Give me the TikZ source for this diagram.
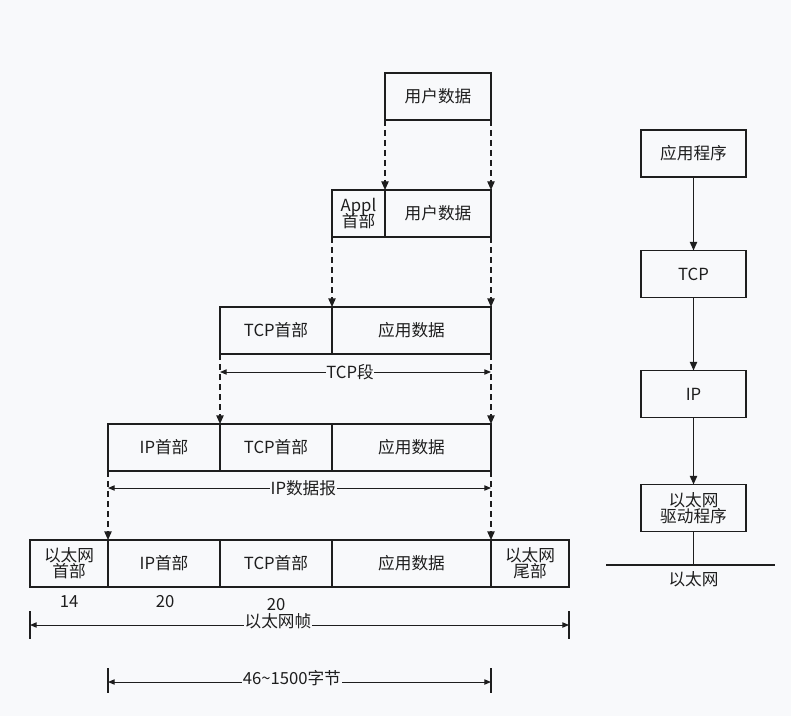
\documentclass[tikz,border=0pt]{standalone}
\usepackage{fontspec}
\setmainfont{Noto Sans CJK SC}
\definecolor{pgbg}{HTML}{F8F9FB}
\definecolor{pgink}{HTML}{1E1E1E}
\usetikzlibrary{arrows.meta,positioning}

\begin{document}
\begin{tikzpicture}[
  x=0.75pt,y=-0.75pt,
  font=\fontsize{12.5}{14}\selectfont,
  box/.style={draw=pgink,line width=1.1pt,minimum height=35.25pt,inner sep=1pt,outer sep=0pt,align=center,text=pgink},
  hdr/.style={box,minimum width=84pt},
  dat/.style={box,minimum width=119.25pt},
  eth/.style={box,minimum width=58.5pt},
  stk/.style={box,minimum width=78.75pt},
  dl/.style={-{Triangle[length=6.5pt,width=5.5pt]},pgink,line width=1pt,dash pattern=on 4.5pt off 3pt},
  sl/.style={-{Triangle[length=6.5pt,width=5.5pt]},pgink,line width=1pt},
  dim/.style={{Triangle[length=5pt,width=4pt]}-{Triangle[length=5pt,width=4pt]},pgink,line width=0.75pt},
  lbl/.style={fill=pgbg,inner sep=0.5pt,text=pgink}]
\fill[pgbg] (0,0) rectangle (791,716);
\useasboundingbox (0,0) rectangle (791,716);
% encapsulation rows
\node[box,minimum width=79.5pt,anchor=north west] (u1) at (385,73) {用户数据};
\node[box,minimum width=79.5pt,anchor=north west] (u2) at (385,190) {用户数据};
\node[box,minimum width=39.75pt,left=0pt of u2] (appl) {Appl\\[-2pt]首部};
\node[hdr,anchor=north west] (tcp3) at (220,307) {TCP首部};
\node[dat,right=0pt of tcp3] (app3) {应用数据};
\node[hdr,anchor=north west] (ip4) at (108,424) {IP首部};
\node[hdr,right=0pt of ip4] (tcp4) {TCP首部};
\node[dat,right=0pt of tcp4] (app4) {应用数据};
\node[eth,anchor=north west] (eh) at (30,540) {以太网\\[-2pt]首部};
\node[hdr,right=0pt of eh] (ip5) {IP首部};
\node[hdr,right=0pt of ip5] (tcp5) {TCP首部};
\node[dat,right=0pt of tcp5] (app5) {应用数据};
\node[eth,right=0pt of app5] (et) {以太网\\[-2pt]尾部};
% sizes
\node[text=pgink] (n14) at (69,602) {14};
\node[text=pgink] (n20a) at (165,602) {20};
\node[text=pgink] (n20b) at (276,605) {20};
% dashed drops
\draw[dl] (u1.south west) -- (u2.north west); \draw[dl] (u1.south east) -- (u2.north east);
\draw[dl] (appl.south west) -- (app3.north west); \draw[dl] (u2.south east) -- (app3.north east);
\draw[dl] (tcp3.south west) -- (tcp4.north west); \draw[dl] (app3.south east) -- (app4.north east);
\draw[dl] (ip4.south west) -- (ip5.north west); \draw[dl] (app4.south east) -- (app5.north east);
% spans
\draw[dim] ([yshift=-13.5pt]tcp3.south west) -- node[lbl,pos=0.48]{TCP段} ([yshift=-13.5pt]app3.south east);
\draw[dim] ([yshift=-12.75pt]ip4.south west) -- node[lbl,pos=0.51]{IP数据报} ([yshift=-12.75pt]app4.south east);
\coordinate (fL) at ([yshift=-28.5pt]eh.south west);
\coordinate (fR) at ([yshift=-28.5pt]et.south east);
\draw[pgink,line width=1pt] ([yshift=10.5pt]fL) -- ([yshift=-10.5pt]fL);
\draw[pgink,line width=1pt] ([yshift=10.5pt]fR) -- ([yshift=-10.5pt]fR);
\draw[dim] (fL) -- node[lbl,pos=0.46,yshift=3pt]{以太网帧} (fR);
\coordinate (bL) at ([yshift=-71.25pt]ip5.south west);
\coordinate (bR) at ([yshift=-71.25pt]app5.south east);
\draw[pgink,line width=1pt] ([yshift=10.5pt]bL) -- ([yshift=-8pt]bL);
\draw[pgink,line width=1pt] ([yshift=10.5pt]bR) -- ([yshift=-8pt]bR);
\draw[dim] (bL) -- node[lbl,pos=0.48,yshift=3pt]{46\textasciitilde 1500字节} (bR);
% protocol stack
\node[stk] (sApp) at (693.5,153.5) {应用程序};
\node[stk] (sTcp) at (693.5,274) {TCP};
\node[stk] (sIp) at (693.5,394) {IP};
\node[stk] (sDrv) at (693.5,508) {以太网\\[-2pt]驱动程序};
\draw[sl] (sApp) -- (sTcp); \draw[sl] (sTcp) -- (sIp); \draw[sl] (sIp) -- (sDrv);
\coordinate (netL) at (606,565);
\coordinate (netR) at (775,565);
\draw[pgink,line width=1pt] (netL) -- (netR);
\draw[pgink,line width=1pt] (sDrv.south) -- (sDrv.south |- netL);
\node[text=pgink] (net) at (693.5,579) {以太网};
\end{tikzpicture}
\end{document}
